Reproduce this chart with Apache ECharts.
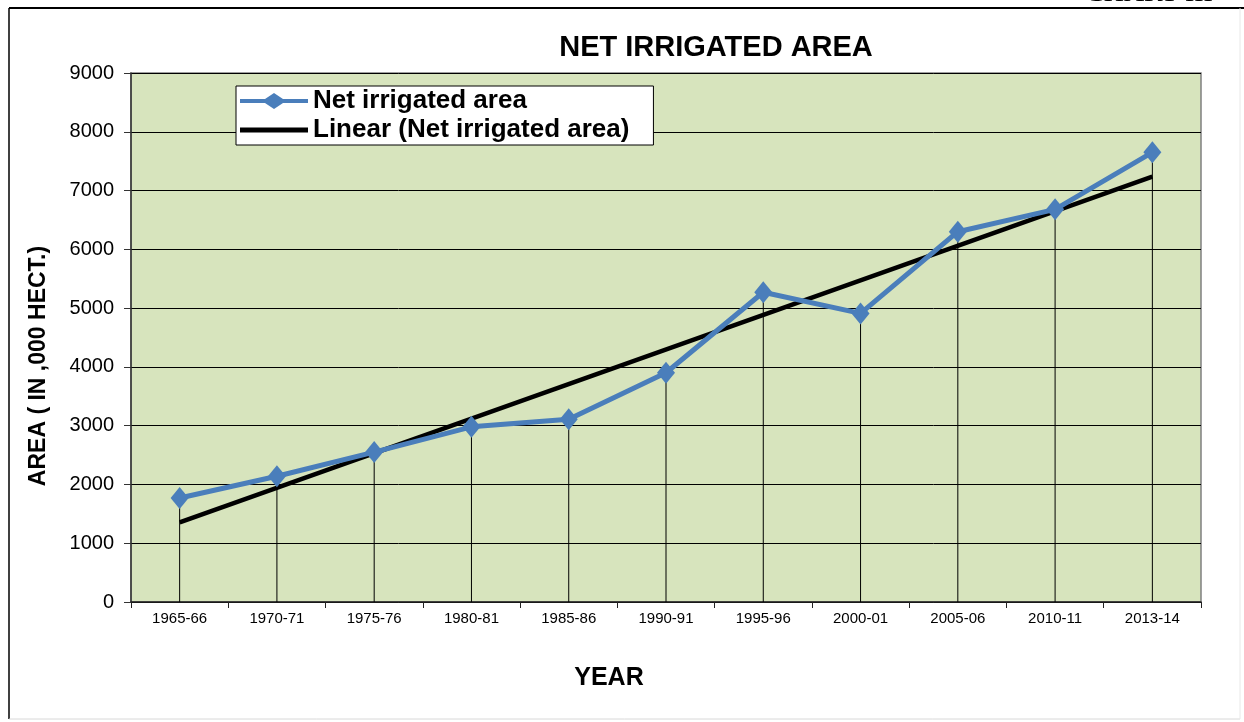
<!DOCTYPE html>
<html>
<head>
<meta charset="utf-8">
<script src="https://cdn.jsdelivr.net/npm/echarts@6/dist/echarts.min.js"></script>
<style>
html,body{margin:0;padding:0;background:#fff;}
#chart{width:1244px;height:722px;}
</style>
</head>
<body>
<div id="chart"></div>
<script>
// ---- data ----
var categories = ['1965-66','1970-71','1975-76','1980-81','1985-86','1990-91','1995-96','2000-01','2005-06','2010-11','2013-14'];
var netIrrigated = [1770, 2140, 2550, 2980, 3110, 3900, 5270, 4910, 6300, 6680, 7650];
var trendStart = 1355;
var trendEnd = 7235;
var yTicks = [0, 1000, 2000, 3000, 4000, 5000, 6000, 7000, 8000, 9000];

var trendData = categories.map(function (c, i) {
  if (i === 0) return trendStart;
  if (i === categories.length - 1) return trendEnd;
  return null;
});

var chart = echarts.init(document.getElementById('chart'));
var option = {
  animation: false,
  backgroundColor: '#ffffff',
  title: {
    text: 'NET IRRIGATED AREA',
    left: 711,
    top: 28,
    textAlign: 'center',
    textStyle: { fontFamily: 'Liberation Sans, Arial, sans-serif', fontSize: 29, fontWeight: 'bold', color: '#000' }
  },
  legend: {
    data: [
      { name: 'Net irrigated area', icon: 'path://M0,6H25L34,0L43,6H68V10H43L34,16L25,10H0Z', itemStyle: { color: '#4a7ebb' } },
      { name: 'Linear (Net irrigated area)', icon: 'path://M0,0H68V5H0Z', itemStyle: { color: '#000' } }
    ],
    orient: 'vertical',
    left: 236,
    top: 86,
    itemWidth: 68,
    itemHeight: 16,
    itemGap: 3,
    padding: [2, 24, 2, 4],
    backgroundColor: '#ffffff',
    borderColor: '#000000',
    borderWidth: 1,
    textStyle: { fontFamily: 'Liberation Sans, Arial, sans-serif', fontSize: 26, fontWeight: 'bold', color: '#000', padding: [0, 0, 0, 0] }
  },
  grid: {
    left: 131, right: 43, top: 73, bottom: 120,
    show: true,
    backgroundColor: '#d7e4bd',
    borderColor: '#808080',
    borderWidth: 1.5
  },
  xAxis: {
    type: 'category',
    data: categories,
    boundaryGap: true,
    axisLine: { show: true, lineStyle: { color: '#222', width: 1.5 } },
    axisTick: { show: true, length: 6, alignWithLabel: false, lineStyle: { color: '#222' } },
    axisLabel: { margin: 9, fontFamily: 'Liberation Sans, Arial, sans-serif', fontSize: 15, color: '#000' },
    splitLine: { show: false }
  },
  yAxis: {
    type: 'value',
    min: yTicks[0],
    max: yTicks[yTicks.length - 1],
    interval: 1000,
    axisLine: { show: true, lineStyle: { color: '#333', width: 1.5 } },
    axisTick: { show: true, length: 7, inside: false, lineStyle: { color: '#333' } },
    axisLabel: { margin: 17, fontFamily: 'Liberation Sans, Arial, sans-serif', fontSize: 20, color: '#000', formatter: function (v) { return String(v); } },
    splitLine: { show: true, lineStyle: { color: '#000', width: 1 } }
  },
  graphic: [
    { type: 'line', shape: { x1: 9, y1: 8, x2: 1244, y2: 8 }, style: { stroke: '#000', lineWidth: 2 } },
    { type: 'line', shape: { x1: 9, y1: 8, x2: 9, y2: 719 }, style: { stroke: '#000', lineWidth: 1.5 } },
    { type: 'line', shape: { x1: 9, y1: 719, x2: 1240, y2: 719 }, style: { stroke: '#d8d8d8', lineWidth: 1 } },
    { type: 'line', shape: { x1: 1240, y1: 8, x2: 1240, y2: 719 }, style: { stroke: '#e8e8e8', lineWidth: 1 } },
    { type: 'text', left: 1085, top: -20, style: { text: 'CHART-III', font: '28px "Liberation Serif", serif', fill: '#000' } },
    { type: 'text', x: 39, y: 366, rotation: Math.PI / 2, style: { text: 'AREA ( IN ,000 HECT.)', font: 'bold 23px "Liberation Sans", Arial, sans-serif', fill: '#000', align: 'center', verticalAlign: 'middle' } },
    { type: 'text', x: 609, y: 678, style: { text: 'YEAR', font: 'bold 25px "Liberation Sans", Arial, sans-serif', fill: '#000', align: 'center', verticalAlign: 'middle' } }
  ],
  series: [
    {
      name: 'drop',
      type: 'bar',
      data: netIrrigated,
      barWidth: 1,
      itemStyle: { color: '#000' },
      z: 1,
      silent: true
    },
    {
      name: 'Linear (Net irrigated area)',
      type: 'line',
      data: trendData,
      connectNulls: true,
      symbol: 'none',
      lineStyle: { color: '#000', width: 4.5 },
      itemStyle: { color: '#000' },
      z: 3
    },
    {
      name: 'Net irrigated area',
      type: 'line',
      data: netIrrigated,
      symbol: 'diamond',
      symbolSize: [18, 22],
      lineStyle: { color: '#4a7ebb', width: 5 },
      itemStyle: { color: '#4a7ebb' },
      z: 4
    }
  ]
};
chart.setOption(option);
</script>
</body>
</html>
